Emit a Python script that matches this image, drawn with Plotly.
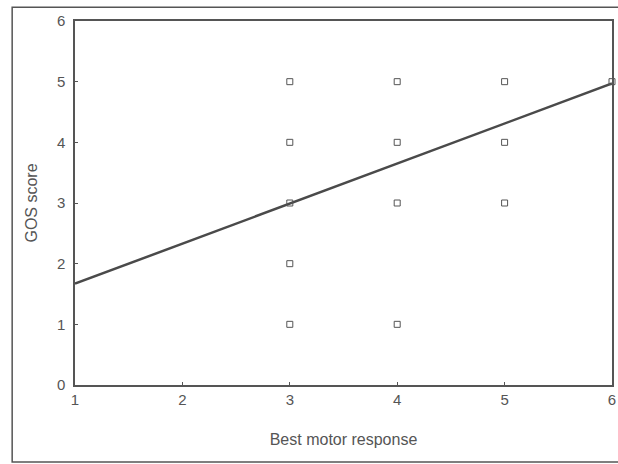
import plotly.graph_objects as go

# Data
motor = [3, 3, 3, 3, 3, 4, 4, 4, 4, 5, 5, 5, 6]
gos = [5, 4, 3, 2, 1, 5, 4, 3, 1, 5, 4, 3, 5]
fit_x = [1, 6]
fit_y = [1.67, 4.97]
x_ticks = [1, 2, 3, 4, 5, 6]
y_ticks = [0, 1, 2, 3, 4, 5, 6]

fig = go.Figure()
fig.add_trace(go.Scatter(x=fit_x, y=fit_y, mode="lines",
                         line=dict(color="#4a4a4a", width=2.5),
                         showlegend=False, cliponaxis=False))
fig.add_trace(go.Scatter(x=motor, y=gos, mode="markers",
                         marker=dict(symbol="square-open", size=6,
                                     color="#555555", line=dict(width=1)),
                         showlegend=False, cliponaxis=False))

axis_font = dict(family="Liberation Sans, Arial, sans-serif", size=15, color="#555555")
title_font = dict(family="Liberation Sans, Arial, sans-serif", size=16, color="#555555")
fig.update_layout(
    width=618, height=464,
    margin=dict(l=75, r=6, t=21, b=79),
    paper_bgcolor="white", plot_bgcolor="white",
    xaxis=dict(range=[1, 6], tickvals=x_ticks, showgrid=False, zeroline=False,
               showline=True, linecolor="#555555", linewidth=1.5, mirror=True,
               ticks="inside", ticklen=3, tickcolor="#555555", tickfont=axis_font,
               ticklabeloverflow="allow", automargin=False,
               title=dict(text="Best motor response", standoff=27, font=title_font)),
    yaxis=dict(range=[0, 6], tickvals=y_ticks, showgrid=False, zeroline=False,
               showline=True, linecolor="#555555", linewidth=1.5, mirror=True,
               ticks="inside", ticklen=3, tickcolor="#555555", tickfont=axis_font,
               ticklabelstandoff=5, automargin=False,
               title=dict(text="GOS score", standoff=15, font=title_font)),
    shapes=[dict(type="rect", xref="paper", yref="paper",
                 x0=-0.117, x1=1.03, y0=-0.2115, y1=1.038,
                 line=dict(color="#555555", width=1.5), layer="below")],
)
fig.write_html("out.html")
